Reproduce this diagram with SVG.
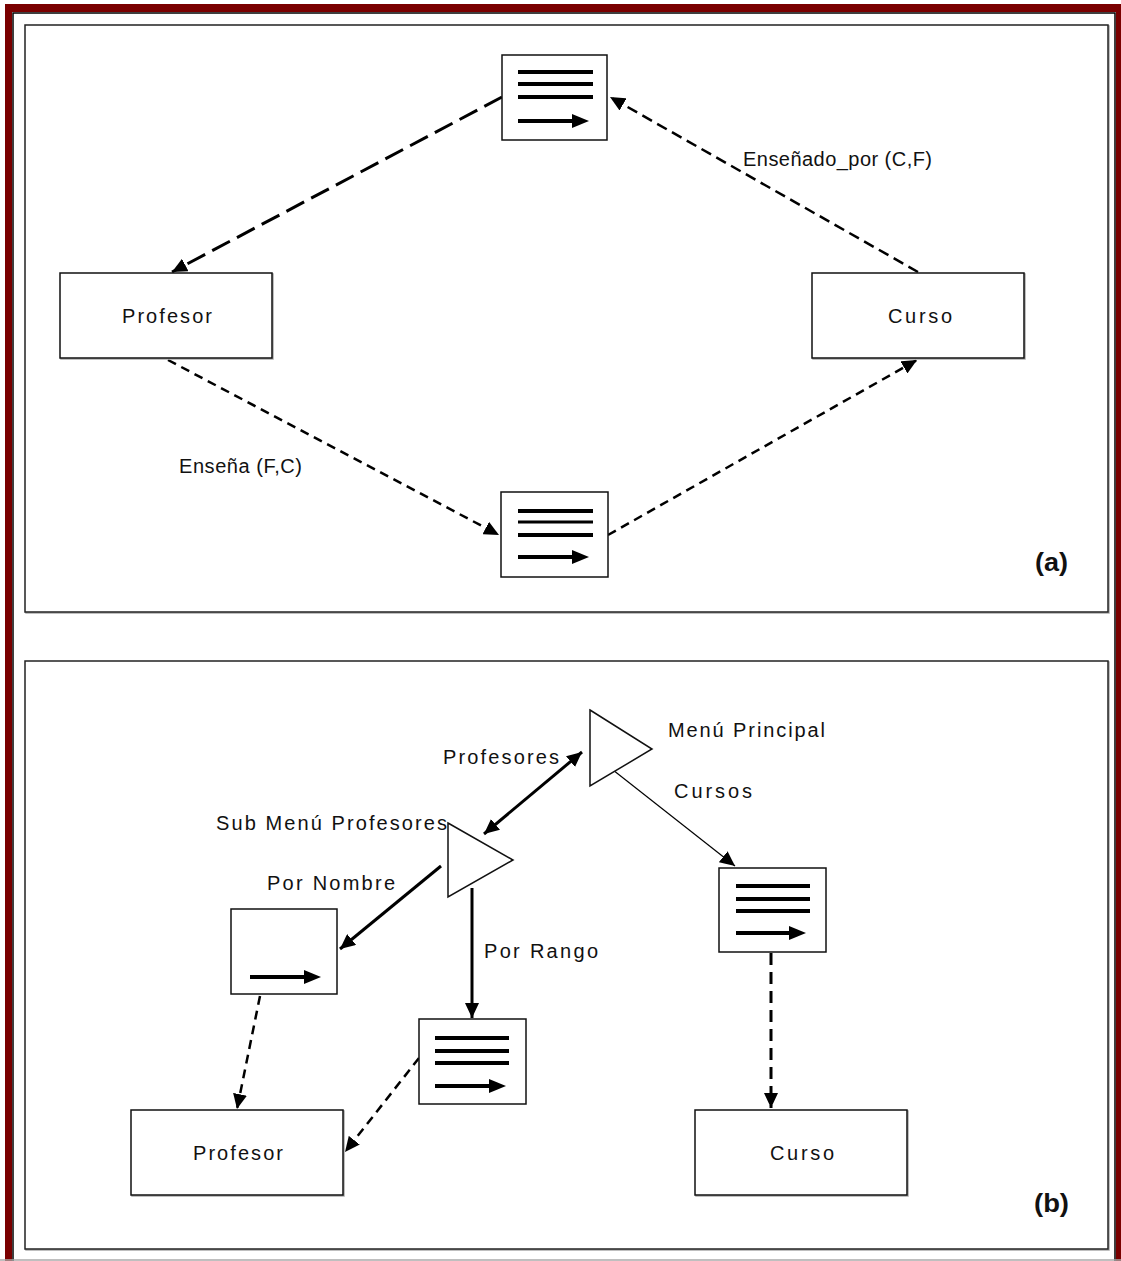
<svg xmlns="http://www.w3.org/2000/svg" width="1121" height="1261" viewBox="0 0 1121 1261">
<defs>
<style>
.panel{fill:#fff;stroke:#222;stroke-width:1.5}
.shadow{fill:none;stroke:#aaa;stroke-width:1.5}
.box{fill:#fff;stroke:#111;stroke-width:1.5}
.ln{stroke:#000;stroke-width:4;stroke-linecap:butt}
.tri{fill:#fff;stroke:#111;stroke-width:1.5}
.t{font-family:"Liberation Sans",Arial,sans-serif;font-size:20px;fill:#111}
.b{font-family:"Liberation Sans",Arial,sans-serif;font-size:25px;font-weight:bold;fill:#111}
.dash{fill:none;stroke:#000;stroke-width:2.5;stroke-dasharray:9 6}
.solid{fill:none;stroke:#000;stroke-width:3}
</style>
<marker id="ah" markerUnits="userSpaceOnUse" markerWidth="16" markerHeight="14" refX="15" refY="7" orient="auto">
<path d="M0,0 L15,7 L0,14 Z" fill="#000"/>
</marker>
<marker id="ahs" markerUnits="userSpaceOnUse" markerWidth="16" markerHeight="14" refX="15" refY="7" orient="auto-start-reverse">
<path d="M0,0 L15,7 L0,14 Z" fill="#000"/>
</marker>
<marker id="ia" markerUnits="userSpaceOnUse" markerWidth="18" markerHeight="14" refX="2" refY="7" orient="auto">
<path d="M0,0 L17,7 L0,14 Z" fill="#000"/>
</marker>
</defs>

<!-- frame -->
<rect x="0" y="0" width="1121" height="1261" fill="#fff"/>
<path d="M5,4 H1121 V1261 H5 Z M12,12 V1261 H1116 V12 Z" fill="#7a0000" fill-rule="evenodd"/>
<path d="M13,1261 V13 H1115 V1261" fill="none" stroke="#000" stroke-width="1.5"/>
<line x1="0" y1="1260" x2="1121" y2="1260" stroke="#aaa" stroke-width="1.5"/>

<!-- panels -->
<g id="panel-a">
<rect class="shadow" x="26" y="26" width="1083" height="587"/>
<rect class="panel" x="25" y="25" width="1083" height="587"/>
</g>
<g id="panel-b">
<rect class="shadow" x="26" y="662" width="1083" height="588"/>
<rect class="panel" x="25" y="661" width="1083" height="588"/>
</g>

<!-- connectors -->
<g id="connectors">
<line x1="502" y1="97" x2="172" y2="272" fill="none" stroke="#000" stroke-width="3" stroke-dasharray="20 8" marker-end="url(#ah)"/>
<line x1="918" y1="272" x2="610" y2="97" fill="none" stroke="#000" stroke-width="2.5" stroke-dasharray="11 6" marker-end="url(#ah)"/>
<line class="dash" x1="168" y1="360" x2="499" y2="535" marker-end="url(#ah)"/>
<line class="dash" x1="608" y1="535" x2="917" y2="360" marker-end="url(#ah)"/>
<line class="solid" x1="582" y1="752" x2="484" y2="834" marker-start="url(#ahs)" marker-end="url(#ah)"/>
<line x1="613" y1="770" x2="735" y2="866" stroke="#000" stroke-width="1.2" marker-end="url(#ah)"/>
<line class="solid" x1="441" y1="866" x2="340" y2="949" marker-end="url(#ah)"/>
<line class="solid" x1="472" y1="888" x2="472" y2="1018" marker-end="url(#ah)"/>
<line x1="771" y1="953" x2="771" y2="1108" fill="none" stroke="#000" stroke-width="3" stroke-dasharray="12 7" marker-end="url(#ah)"/>
<line class="dash" x1="260" y1="996" x2="237" y2="1109" marker-end="url(#ah)"/>
<line class="dash" x1="419" y1="1058" x2="345" y2="1152" marker-end="url(#ah)"/>
</g>

<!-- panel (a) nodes -->
<g id="idx-top">
<rect class="box" x="502" y="55" width="105" height="85"/>
<line class="ln" x1="518" y1="72" x2="593" y2="72"/>
<line class="ln" x1="518" y1="84" x2="593" y2="84"/>
<line class="ln" x1="518" y1="97" x2="593" y2="97"/>
<line class="ln" x1="518" y1="121" x2="574" y2="121" marker-end="url(#ia)"/>
</g>
<g id="profesor-a">
<rect class="shadow" x="61" y="274" width="212" height="85"/>
<rect class="box" x="60" y="273" width="212" height="85"/>
<text class="t" x="122" y="323" textLength="90" lengthAdjust="spacing">Profesor</text>
</g>
<g id="curso-a">
<rect class="shadow" x="813" y="274" width="212" height="85"/>
<rect class="box" x="812" y="273" width="212" height="85"/>
<text class="t" x="888" y="323" textLength="64" lengthAdjust="spacing">Curso</text>
</g>
<g id="idx-bottom">
<rect class="box" x="501" y="492" width="107" height="85"/>
<line class="ln" x1="518" y1="511" x2="593" y2="511"/>
<line class="ln" x1="518" y1="522" x2="593" y2="522" style="stroke-width:3"/>
<line class="ln" x1="518" y1="535" x2="593" y2="535"/>
<line class="ln" x1="518" y1="557" x2="574" y2="557" marker-end="url(#ia)"/>
</g>
<g id="labels-a">
<text class="t" x="743" y="166" textLength="189" lengthAdjust="spacing">Enseñado_por (C,F)</text>
<text class="t" x="179" y="473" textLength="123" lengthAdjust="spacing">Enseña (F,C)</text>
<text class="b" x="1035" y="571" textLength="33" lengthAdjust="spacingAndGlyphs">(a)</text>
</g>

<!-- panel (b) nodes -->
<g id="menu-principal">
<polygon class="tri" points="590,710 652,749 590,786"/>
<text class="t" x="668" y="737" textLength="157" lengthAdjust="spacing">Menú Principal</text>
</g>
<g id="sub-menu">
<polygon class="tri" points="448,823 513,860 448,897"/>
<text class="t" x="216" y="830" textLength="231" lengthAdjust="spacing">Sub Menú Profesores</text>
</g>
<g id="labels-b">
<text class="t" x="443" y="764" textLength="116" lengthAdjust="spacing">Profesores</text>
<text class="t" x="674" y="798" textLength="78" lengthAdjust="spacing">Cursos</text>
<text class="t" x="267" y="890" textLength="128" lengthAdjust="spacing">Por Nombre</text>
<text class="t" x="484" y="958" textLength="114" lengthAdjust="spacing">Por Rango</text>
<text class="b" x="1034" y="1212" textLength="35" lengthAdjust="spacingAndGlyphs">(b)</text>
</g>
<g id="idx-nombre">
<rect class="box" x="231" y="909" width="106" height="85"/>
<line class="ln" x1="250" y1="977" x2="306" y2="977" marker-end="url(#ia)"/>
</g>
<g id="idx-rango">
<rect class="box" x="419" y="1019" width="107" height="85"/>
<line class="ln" x1="435" y1="1038" x2="509" y2="1038"/>
<line class="ln" x1="435" y1="1051" x2="509" y2="1051"/>
<line class="ln" x1="435" y1="1063" x2="509" y2="1063"/>
<line class="ln" x1="435" y1="1086" x2="491" y2="1086" marker-end="url(#ia)"/>
</g>
<g id="idx-cursos">
<rect class="box" x="719" y="868" width="107" height="84"/>
<line class="ln" x1="736" y1="886" x2="810" y2="886"/>
<line class="ln" x1="736" y1="899" x2="810" y2="899"/>
<line class="ln" x1="736" y1="911" x2="810" y2="911"/>
<line class="ln" x1="736" y1="933" x2="791" y2="933" marker-end="url(#ia)"/>
</g>
<g id="profesor-b">
<rect class="shadow" x="132" y="1111" width="212" height="85"/>
<rect class="box" x="131" y="1110" width="212" height="85"/>
<text class="t" x="193" y="1160" textLength="90" lengthAdjust="spacing">Profesor</text>
</g>
<g id="curso-b">
<rect class="shadow" x="696" y="1111" width="212" height="85"/>
<rect class="box" x="695" y="1110" width="212" height="85"/>
<text class="t" x="770" y="1160" textLength="64" lengthAdjust="spacing">Curso</text>
</g>
</svg>
